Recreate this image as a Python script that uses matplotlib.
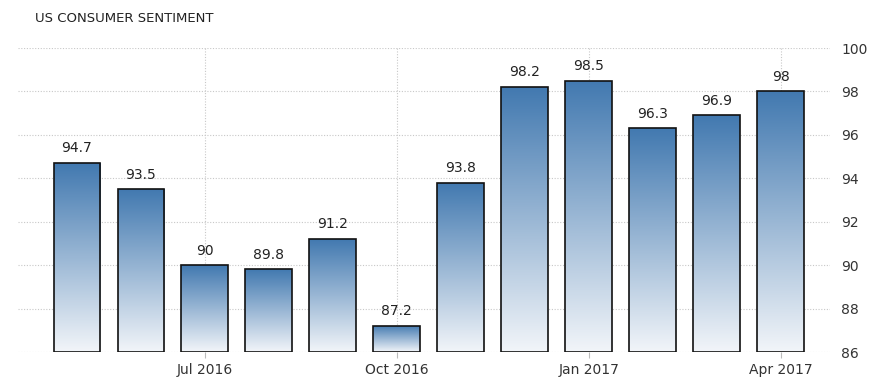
import matplotlib
matplotlib.use("Agg")
import matplotlib.pyplot as plt
import numpy as np
from matplotlib.colors import LinearSegmentedColormap

months = ["May 2016", "Jun 2016", "Jul 2016", "Aug 2016", "Sep 2016", "Oct 2016",
          "Nov 2016", "Dec 2016", "Jan 2017", "Feb 2017", "Mar 2017", "Apr 2017"]
values = [94.7, 93.5, 90.0, 89.8, 91.2, 87.2, 93.8, 98.2, 98.5, 96.3, 96.9, 98.0]
value_labels = ["94.7", "93.5", "90", "89.8", "91.2", "87.2", "93.8", "98.2", "98.5", "96.3", "96.9", "98"]
tick_months = ["Jul 2016", "Oct 2016", "Jan 2017", "Apr 2017"]
yticks = [86, 88, 90, 92, 94, 96, 98, 100]

W, H = 881, 392
fig = plt.figure(figsize=(W / 100, H / 100), dpi=100)
ax = fig.add_axes([18 / W, (H - 352) / H, (830 - 18) / W, (352 - 48) / H])

x = np.arange(len(values))
ymin, ymax = 86, 100
ax.set_xlim(-0.92, 11.77)
ax.set_ylim(ymin, ymax)

cmap = LinearSegmentedColormap.from_list("g", [(0.0, "#f2f5f9"), (1.0, "#4279b0")])
grad = np.linspace(0, 1, 256).reshape(-1, 1)
width = 0.73
bars = ax.bar(x, [v - ymin for v in values], bottom=ymin, width=width,
              facecolor="none", edgecolor="#111111", linewidth=1.2, zorder=3)
for b, v, lab in zip(bars, values, value_labels):
    x0 = b.get_x()
    x1 = x0 + b.get_width()
    im = ax.imshow(grad, extent=[x0, x1, ymin, v], origin="lower", aspect="auto",
                   cmap=cmap, zorder=2)
    im.set_clip_path(b)
    ax.text(b.get_x() + b.get_width() / 2, v + 0.35, lab, ha="center", va="bottom",
            fontsize=10, color="#222222", family="DejaVu Sans")

ax.set_xlim(-0.92, 11.77)
ax.set_ylim(ymin, ymax)

tick_pos = [months.index(m) for m in tick_months]
ax.set_xticks(tick_pos)
ax.set_xticklabels(tick_months, fontsize=10, color="#333333")
ax.set_yticks(yticks)
ax.set_yticklabels([str(t) for t in yticks], fontsize=10, color="#333333")
ax.yaxis.tick_right()
ax.tick_params(axis="y", length=0, pad=8)
ax.tick_params(axis="x", length=4, color="#bbbbbb", pad=4)

ax.grid(True, axis="both", linestyle=(0, (1, 1.5)), color="#c8c8c8", linewidth=0.8, zorder=0)
ax.set_axisbelow(True)
for s in ax.spines.values():
    s.set_visible(False)

fig.text(35 / W, 1 - 18 / H, "US CONSUMER SENTIMENT", fontsize=9.5, color="#222222",
         ha="left", va="center")

fig.savefig("out.png", dpi=100)
